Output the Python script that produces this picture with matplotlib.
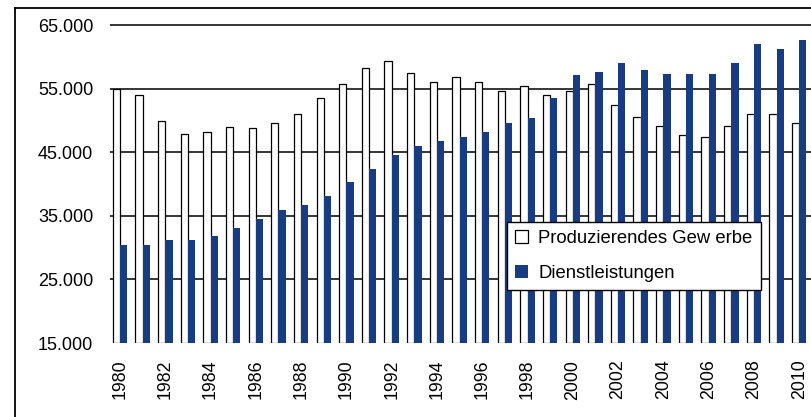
import matplotlib.pyplot as plt
from matplotlib.lines import Line2D

# Data
years = list(range(1980, 2011))
produzierend = [55000, 54000, 49900, 47900, 48200, 49000, 48750, 49600, 51000, 53500,
                55700, 58200, 59300, 57400, 56100, 56800, 56100, 54600, 55400, 54000,
                54650, 55750, 52400, 50500, 49100, 47700, 47400, 49100, 51000, 51000,
                49600]
dienst = [30400, 30400, 31200, 31200, 31850, 33100, 34500, 35900, 36700, 38100,
          40300, 42400, 44600, 46000, 46800, 47400, 48200, 49600, 50400, 53500,
          57100, 57600, 59000, 57900, 57300, 57300, 57300, 59000, 62000, 61200,
          62600]
labels = ['Produzierendes Gew erbe', 'Dienstleistungen']
yticks = [15000, 25000, 35000, 45000, 55000, 65000]
ytick_labels = [f"{v:,}".replace(",", ".") for v in yticks]
xtick_years = years[::2]

plt.rcParams['font.family'] = ['Liberation Sans', 'DejaVu Sans']

W, H = 812, 417
fig = plt.figure(figsize=(W / 100, H / 100), dpi=100)
fig.patch.set_facecolor('white')

# outer chart frame (cropped on right/bottom)
fig.add_artist(Line2D([15 / W, 15 / W], [0, 1 - 8 / H], color='black', lw=1.3))
fig.add_artist(Line2D([15 / W, 1], [1 - 8 / H, 1 - 8 / H], color='black', lw=1.3))

ax = fig.add_axes([110 / W, 1 - 343 / H, (W - 110) / W, 318 / H])
blue = '#183c82'
bw = 0.32
base = yticks[0]

# grid lines (no line at the bottom)
ax.hlines(yticks[1:], 1979.558, 2011, colors='black', lw=1.1, zorder=1, clip_on=False)

ax.bar([y - bw / 2 for y in years], [v - base for v in produzierend], bw, bottom=base,
       color='white', edgecolor='black', linewidth=0.9, label=labels[0], zorder=2)
ax.bar([y + bw / 2 for y in years], [v - base for v in dienst], bw, bottom=base,
       color=blue, edgecolor='none', label=labels[1], zorder=2)

ax.set_xlim(1979.558, 1980 + (W - 120) / 22.64)
ax.set_ylim(15000, 65000)
ax.set_yticks(yticks)
ax.set_yticklabels(ytick_labels, fontsize=13)
ax.set_xticks(xtick_years)
ax.set_xticklabels([str(y) for y in xtick_years], rotation=90, fontsize=12.8)
ax.tick_params(axis='y', length=0, pad=12)
ax.tick_params(axis='x', length=0, pad=12)
for s in ax.spines.values():
    s.set_visible(False)

leg = ax.legend(loc='upper left', bbox_to_anchor=(507 / W, 1 - 222 / H),
                bbox_transform=fig.transFigure, fontsize=13.3, frameon=True,
                fancybox=False, edgecolor='black', framealpha=1,
                handlelength=0.7, handleheight=0.7, handletextpad=0.55,
                labelspacing=0.95, borderpad=0.45, borderaxespad=0)
leg.get_frame().set_linewidth(1.0)

fig.savefig('out.png', dpi=100)
